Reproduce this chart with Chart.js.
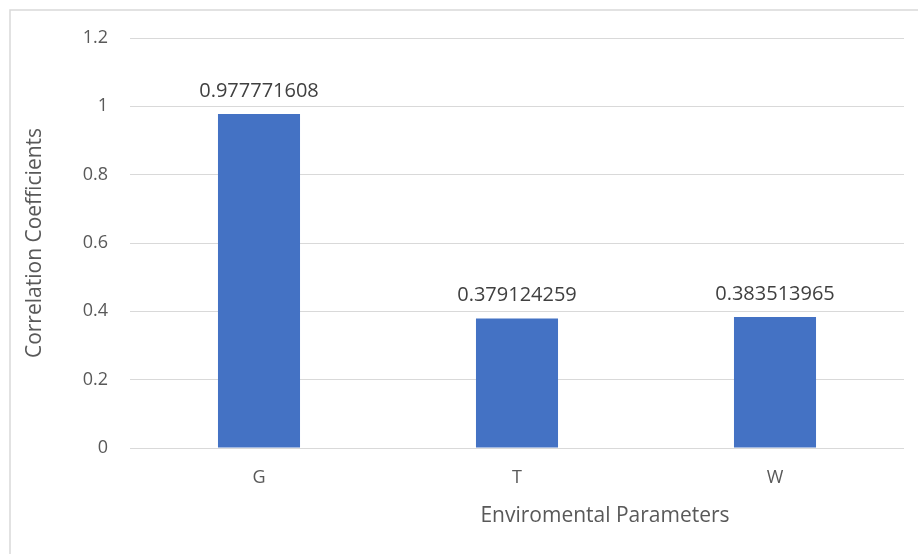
<!DOCTYPE html>
<html>
<head>
<meta charset="utf-8">
<script src="https://cdn.jsdelivr.net/npm/chart.js@4.4.0/dist/chart.umd.min.js"></script>
<style>
  html, body { margin: 0; padding: 0; background: #fff; }
  #wrap { width: 918px; height: 554px; position: relative; }
</style>
</head>
<body>
<div id="wrap"><canvas id="chart" width="918" height="554"></canvas></div>
<script>
// Chart data
const categories = ['G', 'T', 'W'];
const correlations = [0.977771608, 0.379124259, 0.383513965];
const valueLabels = ['0.977771608', '0.379124259', '0.383513965'];
const xTitle = 'Enviromental Parameters';
const yTitle = 'Correlation Coefficients';

const FONT = "'Open Sans', 'DejaVu Sans', sans-serif";

// Border around the whole chart
const frame = {
    id: 'frame',
    beforeDraw(chart) {
        const ctx = chart.ctx;
        ctx.save();
        ctx.fillStyle = '#fff';
        ctx.fillRect(0, 0, chart.width, chart.height);
        ctx.strokeStyle = '#d9d9d9';
        ctx.lineWidth = 1.5;
        ctx.strokeRect(10, 10, chart.width + 20, chart.height + 20);
        ctx.restore();
    }
};

// Value labels above each bar, and the x axis title (sits right of centre in the original)
const barValues = {
    id: 'barValues',
    afterDatasetsDraw(chart) {
        const ctx = chart.ctx;
        const meta = chart.getDatasetMeta(0);
        ctx.save();
        ctx.font = '20px ' + FONT;
        ctx.fillStyle = '#404040';
        ctx.textAlign = 'center';
        ctx.textBaseline = 'middle';
        meta.data.forEach((bar, i) => {
            ctx.fillText(valueLabels[i], bar.x, bar.y - 23);
        });
        const area = chart.chartArea;
        ctx.font = '21px ' + FONT;
        ctx.fillStyle = '#595959';
        ctx.fillText(xTitle, (area.left + area.right) / 2 + 88, area.bottom + 68);
        ctx.restore();
    }
};

new Chart(document.getElementById('chart'), {
    type: 'bar',
    data: {
        labels: categories,
        datasets: [{
            data: correlations,
            backgroundColor: '#4472C4',
            borderWidth: 0,
            categoryPercentage: 0.318,
            barPercentage: 1
        }]
    },
    options: {
        responsive: false,
        animation: false,
        layout: { padding: { left: 10, right: 14, top: 38, bottom: 0 } },
        plugins: {
            legend: { display: false },
            tooltip: { enabled: false }
        },
        scales: {
            x: {
                grid: { display: false, drawTicks: false },
                border: { display: false },
                ticks: { color: '#595959', font: { family: FONT, size: 18 }, padding: 19 },
                afterFit(scale) { scale.height = 106; }
            },
            y: {
                min: 0,
                max: 1.2,
                ticks: {
                    stepSize: 0.2,
                    color: '#595959',
                    font: { family: FONT, size: 18 },
                    padding: 22,
                    callback: v => Math.round(v * 10) / 10
                },
                grid: { color: '#d9d9d9', lineWidth: 1, drawTicks: false },
                border: { display: false },
                title: {
                    display: true,
                    text: yTitle,
                    color: '#595959',
                    font: { family: FONT, size: 21 },
                    padding: { top: 12, bottom: 0 }
                },
                afterFit(scale) { scale.width = 120; }
            }
        }
    },
    plugins: [frame, barValues]
});
</script>
</body>
</html>
